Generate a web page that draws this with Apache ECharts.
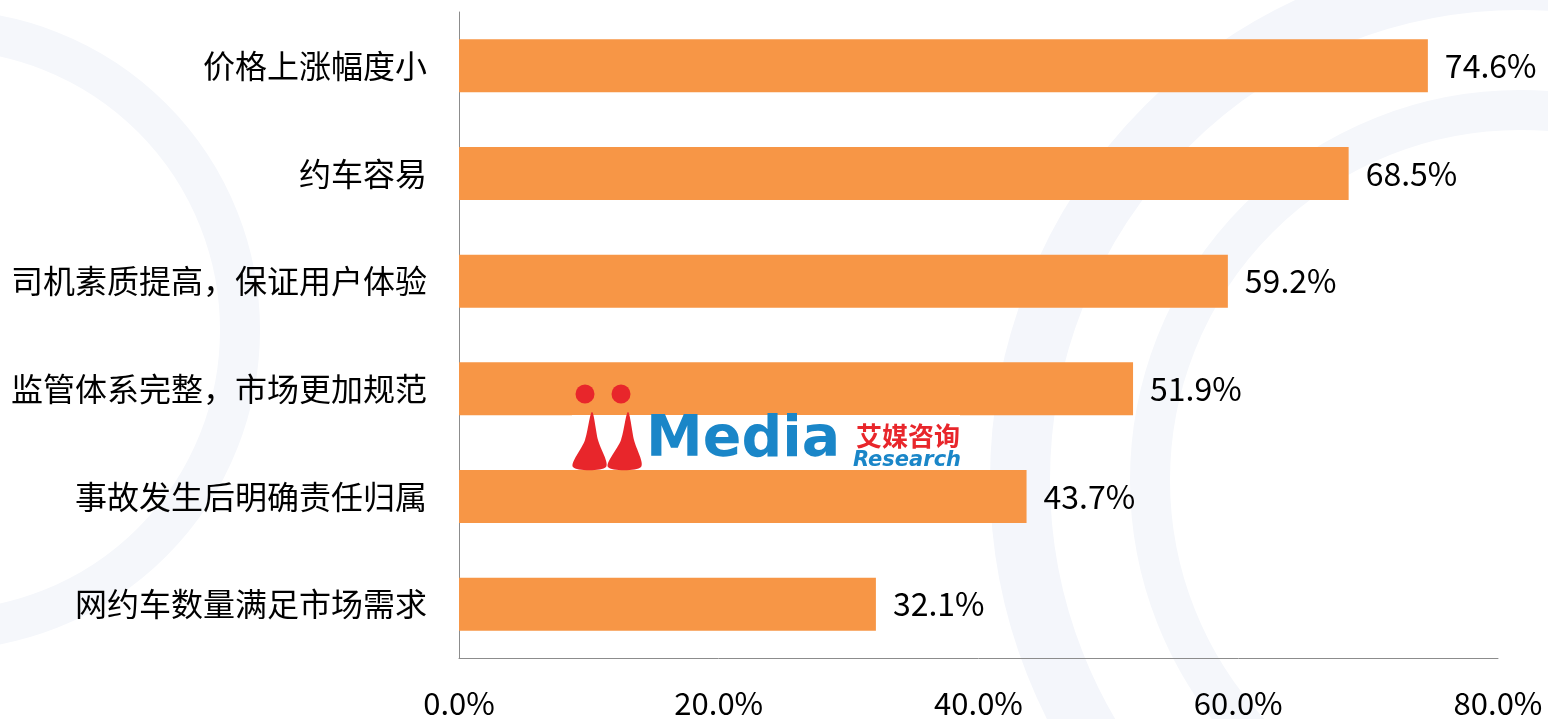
<!DOCTYPE html>
<html><head><meta charset="utf-8">
<script src="https://cdn.jsdelivr.net/npm/echarts@6/dist/echarts.min.js"></script>
<style>html,body{margin:0;padding:0;background:#fff}#c{width:1548px;height:719px}</style>
</head><body><div id="c"></div>
<script>
const categories = ['网约车数量满足市场需求','事故发生后明确责任归属','监管体系完整，市场更加规范','司机素质提高，保证用户体验','约车容易','价格上涨幅度小'];
const values = [32.1, 43.7, 51.9, 59.2, 68.5, 74.6];
const xTicks = [0, 20, 40, 60, 80];
const FONT = '"Noto Sans CJK SC", "Noto Sans", sans-serif';
const chart = echarts.init(document.getElementById('c'));
const RED = '#e8262b', BLUE = '#1a86c8';
chart.setOption({
  backgroundColor: '#ffffff',
  animation: false,
  graphic: [
    {type:'circle', shape:{cx:1520, cy:480, r:500}, style:{fill:'none', stroke:'#f4f6fb', lineWidth:60}, z:-10, silent:true},
    {type:'circle', shape:{cx:1520, cy:480, r:370}, style:{fill:'none', stroke:'#f5f7fb', lineWidth:40}, z:-10, silent:true},
    {type:'circle', shape:{cx:-60, cy:330, r:300}, style:{fill:'none', stroke:'#f5f7fb', lineWidth:40}, z:-10, silent:true},
    {type:'rect', shape:{x:572, y:415, width:388, height:55}, style:{fill:'#ffffff'}, z:100},
    {type:'circle', shape:{cx:585, cy:394, r:9.5}, style:{fill:RED}, z:101},
    {type:'circle', shape:{cx:621, cy:394, r:9.5}, style:{fill:RED}, z:101},
    {type:'polygon', shape:{points:[[573,467],[585,440],[592,412],[598,440],[606,467]], smooth:0.3}, style:{fill:RED}, z:101},
    {type:'polygon', shape:{points:[[608,467],[621,440],[628,412],[634,440],[641,467]], smooth:0.3}, style:{fill:RED}, z:101},
    {type:'text', style:{x:646, y:470, text:'Media', font:'bold 57px "DejaVu Sans", sans-serif', fill:BLUE, textVerticalAlign:'bottom'}, z:101},
    {type:'text', style:{x:856, y:449, text:'艾媒咨询', font:'bold 26px "Noto Sans CJK SC", sans-serif', fill:RED, textVerticalAlign:'bottom'}, z:101},
    {type:'text', style:{x:853, y:471, text:'Research', font:'italic bold 21px "DejaVu Sans", sans-serif', fill:BLUE, textVerticalAlign:'bottom'}, z:101}
  ],
  grid: {left: 459, right: 50, top: 12, bottom: 61, containLabel: false},
  xAxis: {
    type: 'value', min: 0, max: 80, interval: 20,
    axisLine: {show: true, lineStyle: {color: '#8c8c8c', width: 1}},
    axisTick: {show: false},
    splitLine: {show: false},
    axisLabel: {
      margin: 30, color: '#000', fontSize: 31, fontFamily: FONT,
      formatter: v => xTicks.includes(v) ? v.toFixed(1) + '%' : ''
    }
  },
  yAxis: {
    type: 'category', data: categories,
    axisLine: {show: true, lineStyle: {color: '#8c8c8c', width: 1}},
    axisTick: {show: false},
    axisLabel: {margin: 32, color: '#000', fontSize: 32, fontFamily: FONT}
  },
  series: [{
    type: 'bar', data: values, barWidth: 53,
    itemStyle: {color: '#F79646'},
    label: {show: true, position: 'right', distance: 17, color: '#000', fontSize: 32, fontFamily: FONT,
      formatter: p => p.value.toFixed(1) + '%'}
  }]
});
</script></body></html>
